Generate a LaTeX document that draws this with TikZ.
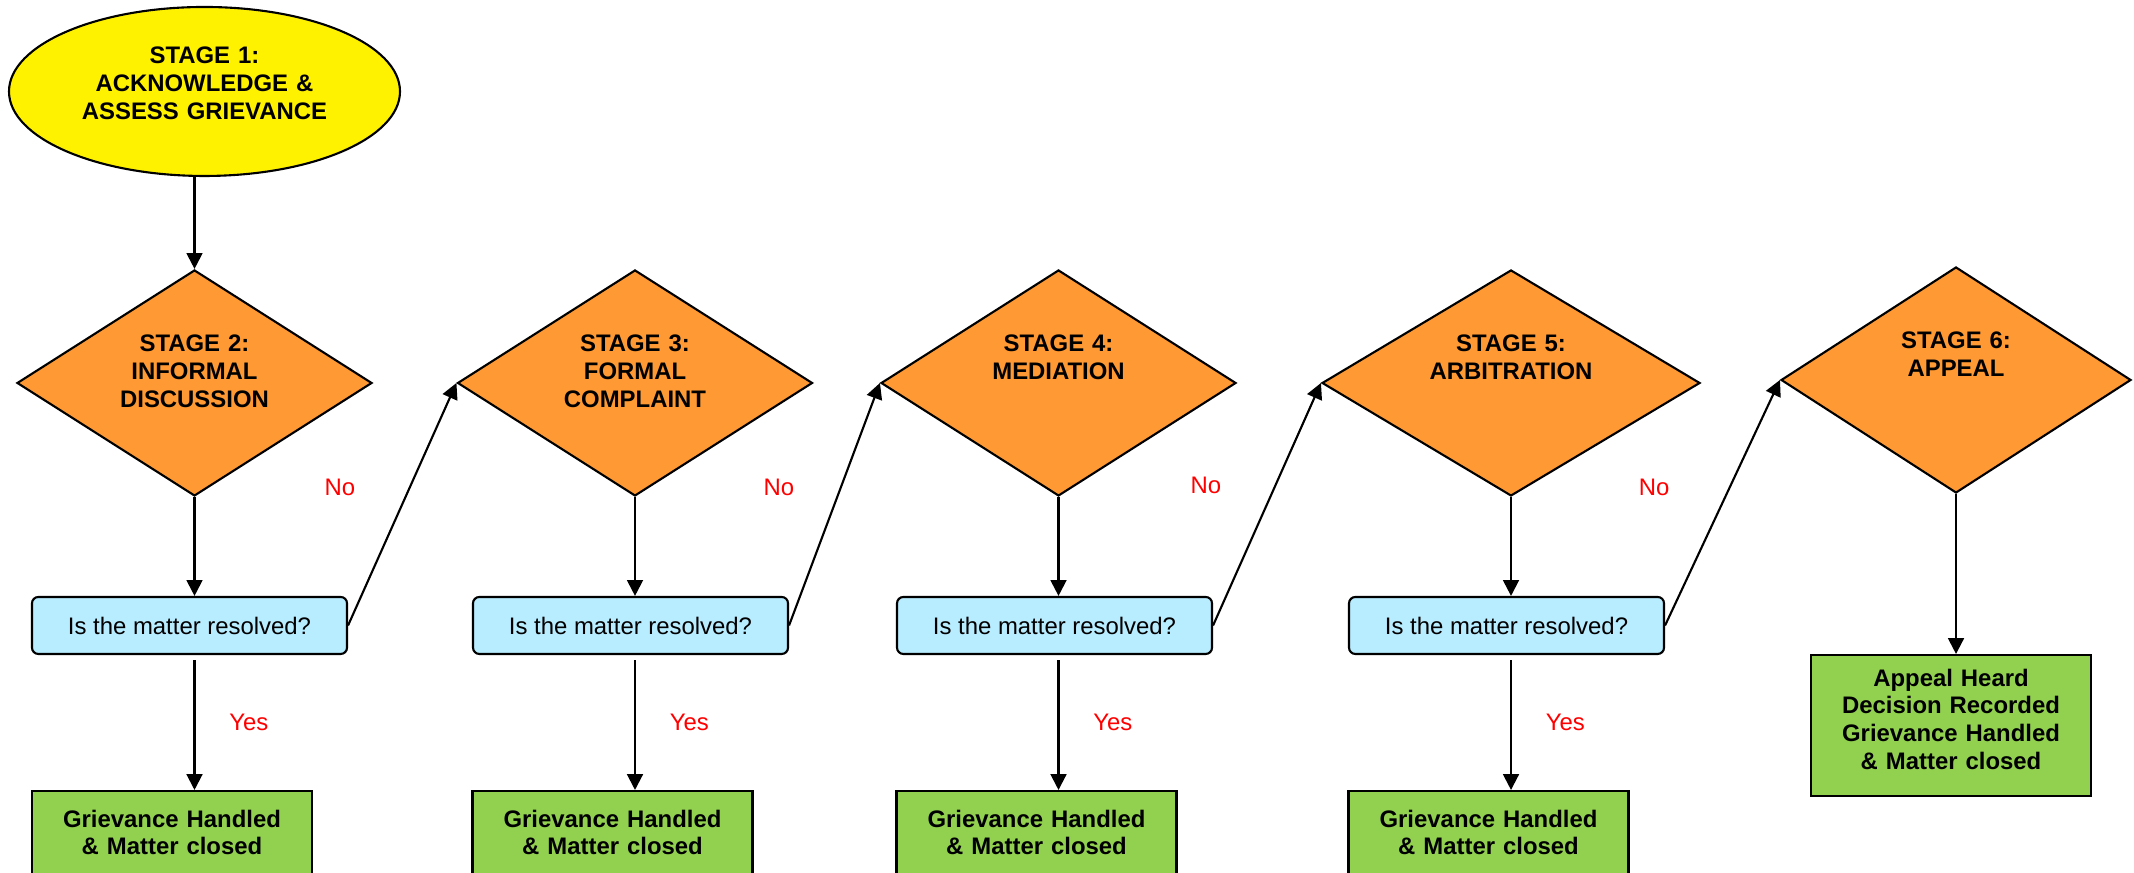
\documentclass[tikz,border=0pt]{standalone}
\usepackage{fontspec}
\setmainfont{Liberation Sans}
\usetikzlibrary{shapes.geometric, positioning, arrows.meta}
\definecolor{stageorange}{HTML}{FF9933}
\definecolor{askblue}{HTML}{B8ECFF}
\definecolor{donegreen}{HTML}{92D050}
\definecolor{answerred}{HTML}{FF0000}

\begin{document}
\begin{tikzpicture}[
    opening/.style={ellipse, draw, line width=0.6pt, fill=yellow, minimum width=3.91cm, minimum height=1.69cm, text width=2.6cm, align=center, inner sep=0pt, text height=0.1cm, text depth=0.65cm, font=\fontsize{6.8}{7.9}\selectfont\bfseries},
    stagebox/.style={diamond, aspect=1.57, draw, line width=0.6pt, fill=stageorange, minimum width=3.55cm, minimum height=2.26cm, text width=1.8cm, align=center, inner sep=0pt, text height=0.1cm, text depth=0.72cm, font=\fontsize{6.8}{7.9}\selectfont\bfseries},
    question/.style={rectangle, rounded corners=1.8pt, draw, line width=0.6pt, fill=askblue, minimum width=3.15cm, minimum height=0.57cm, font=\fontsize{6.8}{7.9}\selectfont},
    donebox/.style={rectangle, draw, line width=0.6pt, fill=donegreen, text width=2.8cm, align=center, inner sep=0pt, text height=0.36cm, text depth=1.05cm, anchor=north, font=\fontsize{6.8}{7.9}\selectfont\bfseries},
    answer/.style={text=answerred, font=\fontsize{6.8}{7.9}\selectfont},
    arrow/.style={-{Triangle[length=4.5pt, width=4.5pt]}, line width=0.6pt}
]
    \path[use as bounding box, clip] (0,0) rectangle (21.34,8.73);

    \node[opening] (s1) at (2.045,7.815) {STAGE 1:\\ACKNOWLEDGE \&\\ASSESS GRIEVANCE};

    \node[stagebox] (s2) at (1.945,4.90) {STAGE 2:\\INFORMAL\\DISCUSSION};
    \node[stagebox] (s3) at (6.35,4.90) {STAGE 3:\\FORMAL\\COMPLAINT};
    \node[stagebox] (s4) at (10.585,4.90) {STAGE 4:\\MEDIATION};
    \node[stagebox, minimum width=3.78cm] (s5) at (15.11,4.90) {STAGE 5:\\ARBITRATION};
    \node[stagebox, minimum width=3.5cm] (s6) at (19.56,4.93) {STAGE 6:\\APPEAL};

    \node[question] (q2) at (1.895,2.475) {Is the matter resolved?};
    \node[question] (q3) at (6.305,2.475) {Is the matter resolved?};
    \node[question] (q4) at (10.545,2.475) {Is the matter resolved?};
    \node[question] (q5) at (15.065,2.475) {Is the matter resolved?};

    \node[donebox] (g2) at (1.72,0.83) {Grievance Handled\\\& Matter closed};
    \node[donebox] (g3) at (6.125,0.83) {Grievance Handled\\\& Matter closed};
    \node[donebox] (g4) at (10.365,0.83) {Grievance Handled\\\& Matter closed};
    \node[donebox] (g5) at (14.885,0.83) {Grievance Handled\\\& Matter closed};
    \node[donebox, text height=0.31cm, text depth=1.10cm] (g6) at (19.51,2.19) {Appeal Heard\\Decision Recorded\\Grievance Handled\\\& Matter closed};

    \draw[arrow] (s1.south -| s2.north) -- (s2.north);

    \draw[arrow] (s2.south) -- (s2.south |- q2.north);
    \draw[arrow] (s3.south) -- (s3.south |- q3.north);
    \draw[arrow] (s4.south) -- (s4.south |- q4.north);
    \draw[arrow] (s5.south) -- (s5.south |- q5.north);
    \draw[arrow] (s6.south) -- (s6.south |- g6.north);

    \draw[arrow, shorten <=0.05cm] (s2.south |- q2.south) -- (s2.south |- g2.north) node[answer, midway, right=0.22cm] (yes2) {Yes};
    \draw[arrow, shorten <=0.05cm] (s3.south |- q3.south) -- (s3.south |- g3.north) node[answer, midway, right=0.22cm] (yes3) {Yes};
    \draw[arrow, shorten <=0.05cm] (s4.south |- q4.south) -- (s4.south |- g4.north) node[answer, midway, right=0.22cm] (yes4) {Yes};
    \draw[arrow, shorten <=0.05cm] (s5.south |- q5.south) -- (s5.south |- g5.north) node[answer, midway, right=0.22cm] (yes5) {Yes};

    \draw[arrow] (q2.east) -- (s3.west);
    \draw[arrow] (q3.east) -- (s4.west);
    \draw[arrow] (q4.east) -- (s5.west);
    \draw[arrow] (q5.east) -- (s6.west);

    \node[answer] (no2) at (3.40,3.86) {No};
    \node[answer] (no3) at (7.79,3.86) {No};
    \node[answer] (no4) at (12.06,3.88) {No};
    \node[answer] (no5) at (16.54,3.86) {No};
\end{tikzpicture}
\end{document}
